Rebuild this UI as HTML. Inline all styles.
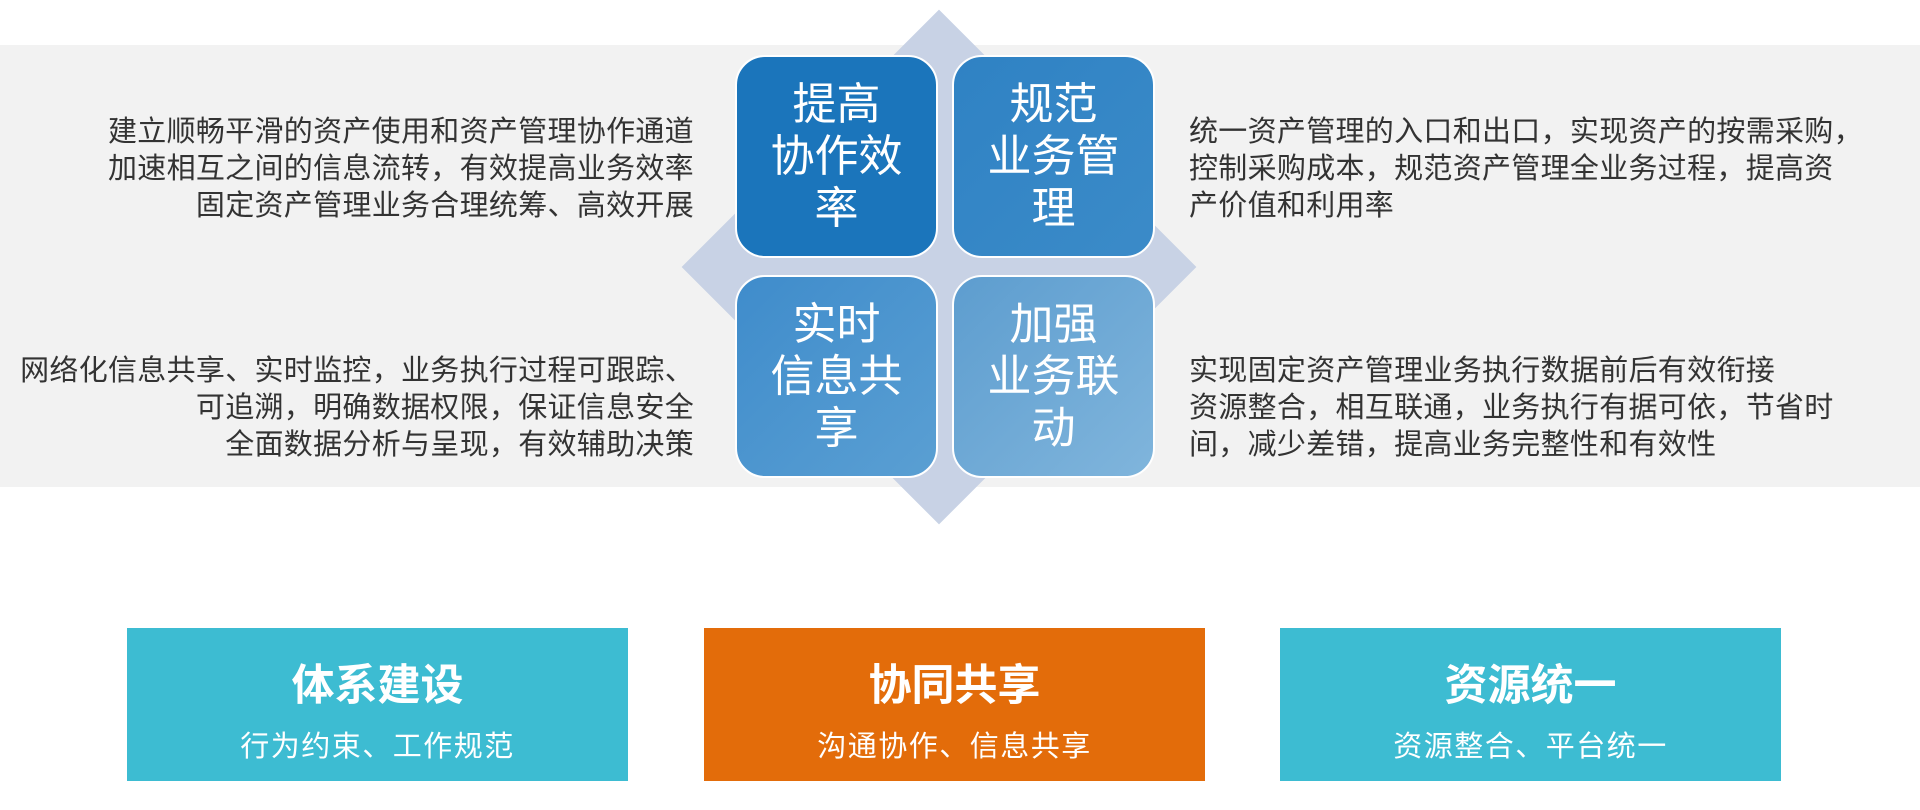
<!DOCTYPE html>
<html><head><meta charset="utf-8"><style>
*{margin:0;padding:0;box-sizing:border-box}
body{width:1920px;height:810px;background:#fff;position:relative;overflow:hidden;font-family:"Liberation Sans","Noto Sans CJK SC",sans-serif}
.band{position:absolute;left:0;top:45px;width:1920px;height:442px;background:#f2f2f2}
.dia{position:absolute;left:757px;top:85px;width:364px;height:364px;background:#c8d2e5;transform:rotate(45deg)}
.q{position:absolute;width:203px;height:203px;border-radius:30px;border:2px solid #fff;color:#fff;font-size:44px;line-height:52px;text-align:center;display:flex;align-items:center;justify-content:center}
.t{position:absolute;font-size:29px;line-height:37px;color:#333;white-space:nowrap;letter-spacing:0.3px}
.r{text-align:right}
.b{position:absolute;top:628px;width:501px;height:153px;color:#fff;text-align:center}
.b h{display:block;font-size:43px;font-weight:bold;margin-top:33px;line-height:50px}
.b p{font-size:29px;margin-top:12px;letter-spacing:1.5px}
</style></head><body>
<div class="band"></div>
<div class="dia"></div>
<div class="q" style="left:735px;top:55px;background:#1b75bb">提高<br>协作效<br>率</div>
<div class="q" style="left:952px;top:55px;background:linear-gradient(135deg,#2f82c4,#3b8bc8)">规范<br>业务管<br>理</div>
<div class="q" style="left:735px;top:275px;background:linear-gradient(135deg,#3f8ccb,#5a9fd3)">实时<br>信息共<br>享</div>
<div class="q" style="left:952px;top:275px;background:linear-gradient(135deg,#5d9dcf,#80b5dc)">加强<br>业务联<br>动</div>
<div class="t r" style="right:1226px;top:114px">建立顺畅平滑的资产使用和资产管理协作通道<br>加速相互之间的信息流转，有效提高业务效率<br>固定资产管理业务合理统筹、高效开展</div>
<div class="t r" style="right:1226px;top:353px">网络化信息共享、实时监控，业务执行过程可跟踪、<br>可追溯，明确数据权限，保证信息安全<br>全面数据分析与呈现，有效辅助决策</div>
<div class="t" style="left:1189px;top:114px">统一资产管理的入口和出口，实现资产的按需采购，<br>控制采购成本，规范资产管理全业务过程，提高资<br>产价值和利用率</div>
<div class="t" style="left:1189px;top:353px">实现固定资产管理业务执行数据前后有效衔接<br>资源整合，相互联通，业务执行有据可依，节省时<br>间，减少差错，提高业务完整性和有效性</div>
<div class="b" style="left:127px;background:#3dbcd2"><h>体系建设</h><p>行为约束、工作规范</p></div>
<div class="b" style="left:704px;background:#e36c0a"><h>协同共享</h><p>沟通协作、信息共享</p></div>
<div class="b" style="left:1280px;background:#3dbcd2"><h>资源统一</h><p>资源整合、平台统一</p></div>
</body></html>
